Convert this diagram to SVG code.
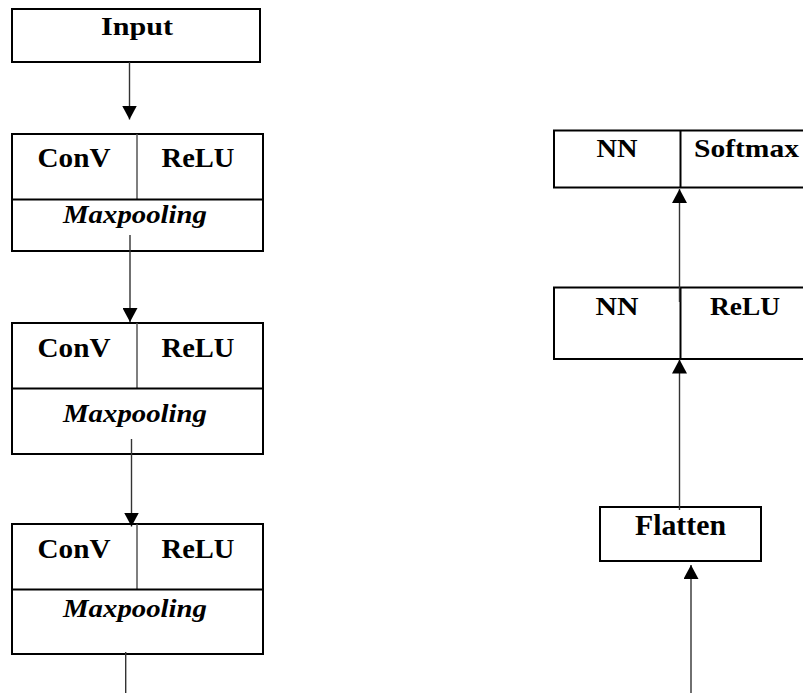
<svg xmlns="http://www.w3.org/2000/svg" width="803" height="693" viewBox="0 0 803 693">
  <defs>
    <style>
      .box { fill: #fff; stroke: #000; stroke-width: 2; }
      .div { stroke: #000; stroke-width: 2; }
      .vdiv { stroke: #555; stroke-width: 1.5; }
      .lbl { font-weight: 700; fill: #000; text-anchor: middle; }
      .it { font-style: italic; }
      .conn { stroke: #333; stroke-width: 1.4; fill: none; }
    </style>
    <marker id="arrow" markerUnits="userSpaceOnUse" markerWidth="15" markerHeight="15" viewBox="0 0 15 15" refX="14" refY="7.5" orient="auto">
      <path d="M0,0 L14,7.5 L0,15 Z" fill="#000"/>
    </marker>
  </defs>
  <rect width="803" height="693" fill="#fff"/>

  <g font-family="Liberation Serif, Times New Roman, Times, serif">
  <!-- nodes -->
  <g id="input">
    <rect class="box" x="12" y="9" width="248" height="53"/>
    <text class="lbl" x="137" y="35" font-size="26" textLength="72" lengthAdjust="spacingAndGlyphs">Input</text>
  </g>

  <g id="conv1">
    <rect class="box" x="12" y="134" width="251" height="117"/>
    <line class="vdiv" x1="137" y1="134" x2="137" y2="199"/>
    <line class="div" x1="12" y1="199.5" x2="263" y2="199.5"/>
    <text class="lbl" x="74" y="167" font-size="27" textLength="73" lengthAdjust="spacingAndGlyphs">ConV</text>
    <text class="lbl" x="198" y="167" font-size="27" textLength="73" lengthAdjust="spacingAndGlyphs">ReLU</text>
    <text class="lbl it" x="135" y="223" font-size="26" textLength="144" lengthAdjust="spacingAndGlyphs">Maxpooling</text>
  </g>

  <g id="conv2">
    <rect class="box" x="12" y="323" width="251" height="131"/>
    <line class="vdiv" x1="137" y1="323" x2="137" y2="388"/>
    <line class="div" x1="12" y1="388.5" x2="263" y2="388.5"/>
    <text class="lbl" x="74" y="357" font-size="27" textLength="73" lengthAdjust="spacingAndGlyphs">ConV</text>
    <text class="lbl" x="198" y="357" font-size="27" textLength="73" lengthAdjust="spacingAndGlyphs">ReLU</text>
    <text class="lbl it" x="135" y="422" font-size="26" textLength="144" lengthAdjust="spacingAndGlyphs">Maxpooling</text>
  </g>

  <g id="conv3">
    <rect class="box" x="12" y="524" width="251" height="130"/>
    <line class="vdiv" x1="137" y1="524" x2="137" y2="589"/>
    <line class="div" x1="12" y1="589.5" x2="263" y2="589.5"/>
    <text class="lbl" x="74" y="558" font-size="27" textLength="73" lengthAdjust="spacingAndGlyphs">ConV</text>
    <text class="lbl" x="198" y="558" font-size="27" textLength="73" lengthAdjust="spacingAndGlyphs">ReLU</text>
    <text class="lbl it" x="135" y="617" font-size="26" textLength="144" lengthAdjust="spacingAndGlyphs">Maxpooling</text>
  </g>

  <g id="flatten">
    <rect class="box" x="600" y="507" width="161" height="54"/>
    <text class="lbl" x="680.5" y="535" font-size="29" textLength="91" lengthAdjust="spacingAndGlyphs">Flatten</text>
  </g>

  <g id="dense-relu">
    <rect class="box" x="554" y="287.5" width="260" height="71.5"/>
    <line class="div" x1="680.5" y1="287.5" x2="680.5" y2="359"/>
    <text class="lbl" x="617" y="315" font-size="25" textLength="43" lengthAdjust="spacingAndGlyphs">NN</text>
    <text class="lbl" x="745" y="315" font-size="25" textLength="70" lengthAdjust="spacingAndGlyphs">ReLU</text>
  </g>

  <g id="dense-softmax">
    <rect class="box" x="554" y="130.5" width="260" height="57"/>
    <line class="div" x1="680.5" y1="130.5" x2="680.5" y2="187.5"/>
    <text class="lbl" x="617" y="157" font-size="25" textLength="41" lengthAdjust="spacingAndGlyphs">NN</text>
    <text class="lbl" x="746.5" y="157" font-size="25" textLength="105" lengthAdjust="spacingAndGlyphs">Softmax</text>
  </g>
  </g>

  <!-- connectors -->
  <g id="connectors">
    <line class="conn" x1="129.5" y1="62" x2="129.5" y2="119.5" marker-end="url(#arrow)"/>
    <line class="conn" x1="130" y1="235" x2="130" y2="322" marker-end="url(#arrow)"/>
    <line class="conn" x1="131.5" y1="439" x2="131.5" y2="526.5" marker-end="url(#arrow)"/>
    <line class="conn" x1="125.7" y1="652" x2="125.7" y2="693"/>
    <line class="conn" x1="691" y1="693" x2="691" y2="565" marker-end="url(#arrow)"/>
    <line class="conn" x1="679.5" y1="510" x2="679.5" y2="359.5" marker-end="url(#arrow)"/>
    <line class="conn" x1="679.5" y1="302" x2="679.5" y2="189" marker-end="url(#arrow)"/>
  </g>
</svg>
